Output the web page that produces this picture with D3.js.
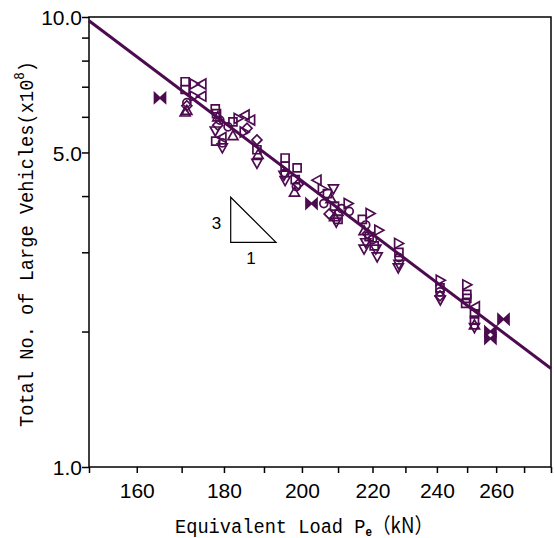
<!DOCTYPE html>
<html><head><meta charset="utf-8">
<script src="https://cdn.jsdelivr.net/npm/d3@7"></script>
<style>body{margin:0;background:#fff}svg{display:block}</style>
</head><body>
<svg id="c" width="554" height="538"></svg>
<script>
// Data
const loadP = [165.1,
  170.8,170.8,172.9,174.7,172.9,174.7,171.2,171.2,171.2,170.8,
  177.9,178.2,178.5,179.0,178.5,177.9,179.5,179.6,179.6,178.0,
  182.2,182.2,181.0,183.5,
  185.2,186.6,185.7,185.0,
  188.2,188.2,188.5,188.2,
  195.5,195.5,195.5,195.5,195.2,
  198.7,198.2,198.5,198.0,199.0,
  204.1,202.6,
  205.6,207.0,208.7,208.0,206.0,209.0,210.0,210.0,209.5,207.5,211.0,212.9,213.2,209.0,
  219.3,217.0,218.0,217.5,218.5,219.0,218.0,217.5,220.0,221.9,221.4,221.0,220.5,
  227.9,228.0,228.0,228.0,227.8,
  241.1,241.0,241.0,241.0,241.1,
  249.9,249.9,249.9,249.5,
  252.8,252.5,252.5,252.5,252.5,
  262.6,258.0,258.0];
const vehN = [6.61,
  7.18,6.90,7.10,7.10,6.67,6.67,6.45,6.35,6.20,6.15,
  6.25,6.10,6.00,5.90,5.75,5.58,5.40,5.25,5.12,5.30,
  5.85,5.45,5.70,5.95,
  6.06,5.90,5.66,5.55,
  5.33,5.07,4.95,4.73,
  4.86,4.66,4.50,4.33,4.45,
  4.62,4.35,4.20,4.08,4.25,
  4.34,3.85,
  4.15,4.05,4.15,3.95,3.85,3.80,3.70,3.55,3.50,3.65,3.75,3.85,3.70,3.60,
  3.66,3.55,3.45,3.35,3.30,3.25,3.15,3.05,3.20,3.36,2.93,3.05,3.10,
  3.14,3.00,2.92,2.82,2.77,
  2.60,2.50,2.45,2.40,2.35,
  2.54,2.42,2.37,2.31,
  2.27,2.19,2.12,2.04,2.07,
  2.13,2.00,1.93];
const markerType = ["bow",
  "sq","sq","tr","tl","tr","tl","ci","di","tu","tu",
  "sq","sq","tu","ci","di","td","tl","ci","td","sq",
  "sq","tu","ci","tr",
  "tl","tl","di","tr",
  "di","sq","tu","td",
  "sq","sq","ci","td","td",
  "sq","sq","ci","tu","di",
  "tl","bow",
  "tr","sq","td","tu","ci","sq","tu","sq","td","di","ci","tr","ci","tu",
  "tr","sq","ci","tu","di","sq","td","td","ci","tr","td","td","sq",
  "tr","sq","ci","td","td",
  "tr","sq","ci","di","td",
  "tr","sq","sq","sq",
  "tl","sq","sq","td","tu",
  "bow","bow","bow"];
const fitP = [150, 280];
const fitN = [9.81, 1.655];
const xTickValues = [150,160,170,180,190,200,210,220,230,240,250,260,270,280];
const xTickLabels = [160,180,200,220,240,260];
const yTickValues = [1,2,3,4,5,6,7,8,9,10];
const yTickLabels = [1,5,10];

const col = "#4d0b4f";
const svg = d3.select("#c");
const L = 89, R = 551, T = 17, B = 467;
const x = d3.scaleLog().domain([150,280]).range([L,R]);
const y = d3.scaleLog().domain([1,10]).range([B,T]);

// axes
const xAxis = d3.axisBottom(x).tickValues(xTickValues).tickSize(6)
  .tickFormat(d => xTickLabels.includes(d) ? d : "");
const gx = svg.append("g").attr("transform",`translate(0,${B})`).call(xAxis);
gx.select(".domain").remove();
gx.selectAll("line").attr("stroke","#000").attr("stroke-width",1.5);
gx.selectAll("text").attr("font-family","'Liberation Sans',Arial,sans-serif")
  .attr("font-size",21).attr("fill","#000").attr("dy","1.05em");

const yAxis = d3.axisLeft(y).tickValues(yTickValues).tickSize(7)
  .tickFormat(d => yTickLabels.includes(d) ? d3.format(".1f")(d) : "");
const gy = svg.append("g").attr("transform",`translate(${L},0)`).call(yAxis);
gy.select(".domain").remove();
gy.selectAll("line").attr("stroke","#000").attr("stroke-width",1.5);
gy.selectAll("text").attr("font-family","'Liberation Sans',Arial,sans-serif")
  .attr("font-size",21).attr("fill","#000").attr("x",-7).attr("dy","0.36em");

// frame
svg.append("rect").attr("x",L).attr("y",T).attr("width",R-L).attr("height",B-T)
  .attr("fill","none").attr("stroke","#000").attr("stroke-width",1.5);

// markers
const s = 5;
const shapes = {
  sq: `M-4,-4h8v8h-8Z`,
  tu: `M0,${-s}L${s},${s*0.8}L${-s},${s*0.8}Z`,
  td: `M0,${s}L${s},${-s*0.8}L${-s},${-s*0.8}Z`,
  tl: `M${-s},0L${s*0.8},${-s}L${s*0.8},${s}Z`,
  tr: `M${s},0L${-s*0.8},${-s}L${-s*0.8},${s}Z`,
  di: `M0,${-s}L${s},0L0,${s}L${-s},0Z`,
  ci: d3.symbol(d3.symbolCircle, 50)(),
  bow: `M-5.5,-5L0,0L-5.5,5Z M5.5,-5L0,0L5.5,5Z`
};
const pts = loadP.map((p,i)=>({p, n:vehN[i], t:markerType[i]}));
svg.append("g").selectAll("path").data(pts).join("path")
  .attr("transform", d=>`translate(${x(d.p)},${y(d.n)})`)
  .attr("d", d=>shapes[d.t])
  .attr("fill", d=> d.t==="bow" ? col : "none")
  .attr("stroke", col).attr("stroke-width",1.7);

// fit line
svg.append("path").datum(fitP.map((p,i)=>[p,fitN[i]]))
  .attr("d", d3.line().x(d=>x(d[0])).y(d=>y(d[1])))
  .attr("stroke", col).attr("stroke-width",3).attr("fill","none");

// slope triangle annotation
svg.append("path").attr("d","M230.7,197.3L230.7,242.3L276,242.3Z")
  .attr("fill","none").attr("stroke","#000").attr("stroke-width",1.2);
svg.append("text").attr("x",216.5).attr("y",229).attr("text-anchor","middle")
  .attr("font-family","'Liberation Sans',Arial,sans-serif").attr("font-size",17).text("3");
svg.append("text").attr("x",251).attr("y",264).attr("text-anchor","middle")
  .attr("font-family","'Liberation Sans',Arial,sans-serif").attr("font-size",17).text("1");

// axis titles
const mono = "'Liberation Mono','DejaVu Sans Mono',monospace";
const xt = svg.append("text").attr("transform","translate(175,533) scale(0.89,1)")
  .attr("font-family",mono).attr("font-size",21).attr("fill","#000");
xt.append("tspan").text("Equivalent Load P");
xt.append("tspan").attr("dy",3).attr("font-size",13).attr("font-weight","bold")
  .attr("font-family","'Liberation Sans',Arial,sans-serif").text("e");
xt.append("tspan").attr("dy",-3).attr("font-family","'Noto Sans CJK JP',sans-serif").text("（kN）");

const yt = svg.append("text").attr("transform","translate(33,427) rotate(-90) scale(0.89,1)")
  .attr("font-family",mono).attr("font-size",21).attr("fill","#000");
yt.append("tspan").text("Total No. of Large Vehicles(x10");
yt.append("tspan").attr("dy",-9).attr("font-size",14).text("8");
yt.append("tspan").attr("dy",9).text(")");
</script>
</body></html>
